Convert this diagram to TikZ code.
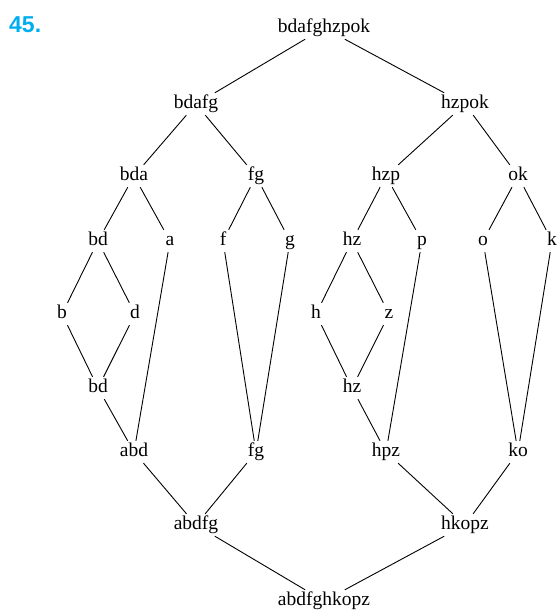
\documentclass[tikz,border=0pt]{standalone}
\usepackage{fontspec}
\setmainfont{Liberation Serif}
\newfontfamily\numfont{Liberation Sans}
\definecolor{numcyan}{RGB}{0,174,239}
\begin{document}
\begin{tikzpicture}[x=1pt,y=-1pt,
  lbl/.style={font=\fontsize{19.5}{19.5}\selectfont, inner sep=2.5pt, text height=13pt, text depth=4pt},
  conn/.style={line width=0.9pt, black}]
\useasboundingbox (0,0) rectangle (558,612);
\node[font=\numfont\fontsize{23}{23}\selectfont\bfseries, text=numcyan, anchor=base west, inner sep=0pt] (num) at (9,33) {45.};
\node[lbl] (top) at (324,28) {bdafghzpok};
\node[lbl] (bdafg) at (196,104) {bdafg};
\node[lbl] (hzpok) at (465,104) {hzpok};
\node[lbl] (bda) at (134,176) {bda};
\node[lbl] (fg) at (256,176) {fg};
\node[lbl] (hzp) at (386,176) {hzp};
\node[lbl] (ok) at (518,176) {ok};
\node[lbl] (bd) at (98,241) {bd};
\node[lbl] (a) at (170,241) {a};
\node[lbl] (f) at (223,241) {f};
\node[lbl] (g) at (290,241) {g};
\node[lbl] (hz) at (352,241) {hz};
\node[lbl] (p) at (422,241) {p};
\node[lbl] (o) at (483,241) {o};
\node[lbl] (k) at (552,241) {k};
\node[lbl] (b) at (62,314) {b};
\node[lbl] (d) at (135,314) {d};
\node[lbl] (h) at (316,314) {h};
\node[lbl] (z) at (389,314) {z};
\node[lbl] (bdl) at (98,388) {bd};
\node[lbl] (hzl) at (352,388) {hz};
\node[lbl] (abd) at (134,452) {abd};
\node[lbl] (fgl) at (256,452) {fg};
\node[lbl] (hpz) at (386,452) {hpz};
\node[lbl] (ko) at (518,452) {ko};
\node[lbl] (abdfg) at (196,525) {abdfg};
\node[lbl] (hkopz) at (465,525) {hkopz};
\node[lbl] (bot) at (324,601) {abdfghkopz};
\foreach \u/\v in {top/bdafg, top/hzpok, bdafg/bda, bdafg/fg, hzpok/hzp, hzpok/ok,
  bda/bd, bda/a, fg/f, fg/g, hzp/hz, hzp/p, ok/o, ok/k,
  bd/b, bd/d, hz/h, hz/z, b/bdl, d/bdl, h/hzl, z/hzl,
  bdl/abd, a/abd, f/fgl, g/fgl, hzl/hpz, p/hpz, o/ko, k/ko,
  abd/abdfg, fgl/abdfg, hpz/hkopz, ko/hkopz, abdfg/bot, hkopz/bot}
  \draw[conn] (\u) -- (\v);
\end{tikzpicture}
\end{document}
